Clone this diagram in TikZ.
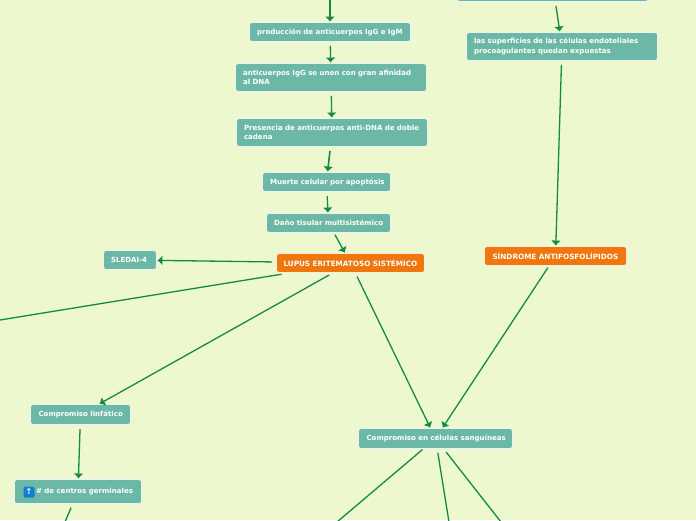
\documentclass[tikz,border=0pt]{standalone}
\usepackage{fontspec}
\setmainfont{DejaVu Sans}
\usepackage{xcolor}
\usetikzlibrary{arrows.meta,positioning}
\definecolor{paper}{HTML}{EEF8CE}
\definecolor{teal}{HTML}{6CB8A6}
\definecolor{lineg}{HTML}{138A48}
\definecolor{burnt}{HTML}{F0760E}
\definecolor{iconb}{HTML}{0F7FD8}

\begin{document}
\begin{tikzpicture}[
    x=1pt, y=-1pt,
    box/.style={draw=white!85!teal, line width=0.9pt, fill=teal, rounded corners=2.5pt,
                text=white, align=left, inner sep=0pt,
                font=\fontsize{7.05}{9.2}\selectfont\bfseries},
    hot/.style={box, fill=burnt, draw=white!85!burnt,
                font=\fontsize{7.25}{9.2}\selectfont\bfseries},
    arr/.style={-{Latex[length=5pt,width=10pt]}, draw=lineg, line width=1.3pt,
                shorten <=4pt, shorten >=0.5pt},
    stub/.style={draw=lineg, line width=1.3pt, shorten <=4pt}
]

\fill[paper] (0,0) rectangle (696,520);
\clip (0,0) rectangle (696,520);

\coordinate (offtop) at (330,-20);
\coordinate (offleft) at (0,320);
\coordinate (offgerm) at (65,522);
\coordinate (offa) at (337,522);
\coordinate (offb) at (449,522);
\coordinate (offc) at (501,522);

\node[box, minimum width=161pt, minimum height=19pt, text width=146pt] (igm) at (330,32)
    {\raisebox{-1pt}{producción de anticuerpos IgG e IgM}};
\node[box, minimum width=191pt, minimum height=28pt, text width=176pt] (dna) at (331,77.5)
    {anticuerpos IgG se unen con gran afinidad\\al DNA};
\node[box, minimum width=191pt, minimum height=28pt, text width=176pt] (doble) at (332,132.5)
    {Presencia de anticuerpos anti-DNA de doble\\cadena};
\node[box, minimum width=128pt, minimum height=19pt, text width=113pt] (muerte) at (326.5,182)
    {\raisebox{-1pt}{Muerte celular por apoptósis}};
\node[box, minimum width=124pt, minimum height=19pt, text width=109pt] (dano) at (328.5,223)
    {\raisebox{-1pt}{Daño tisular multisistémico}};
\node[hot, minimum width=148pt, minimum height=19pt, text width=134pt] (lupus) at (350.5,263)
    {\raisebox{-1pt}{LUPUS ERITEMATOSO SISTÉMICO}};
\node[box, minimum width=53pt, minimum height=19pt, text width=38pt] (sledai) at (130,260)
    {\raisebox{-1pt}{SLEDAI-4}};

\node[box, minimum width=191pt, minimum height=38pt] (endo) at (552.5,-17.5) {};
\node[box, minimum width=191pt, minimum height=28pt, text width=176pt] (sup) at (562,46.5)
    {las superficies de las células endoteliales\\procoagulantes quedan expuestas};
\node[hot, minimum width=142pt, minimum height=19pt, text width=126pt] (sind) at (555.5,256)
    {\raisebox{-1pt}{SÍNDROME ANTIFOSFOLÍPIDOS}};

\node[box, minimum width=100pt, minimum height=20pt, text width=84pt] (linf) at (80.5,414.5)
    {\raisebox{-1pt}{Compromiso linfático}};
\node[box, minimum width=127pt, minimum height=24pt, text width=110pt, align=right] (germ) at (78,491.5)
    {\raisebox{-1pt}{\# de centros germinales}};
\node[fill=iconb, rounded corners=1.5pt, text=white, minimum size=11pt, inner sep=0pt,
      font=\fontsize{8}{8}\selectfont\bfseries] (icon) at (29,492) {↑};
\node[box, minimum width=154pt, minimum height=20pt, text width=138pt] (sang) at (435.5,438.5)
    {\raisebox{-1pt}{Compromiso en células sanguíneas}};

\draw[arr] (offtop) -- (igm);
\draw[arr] (igm) -- (dna);
\draw[arr] (dna) -- (doble);
\draw[arr, line width=1.6pt] (doble) -- (muerte);
\draw[arr] (muerte) -- (dano);
\draw[arr, shorten <=2pt] (dano) -- (lupus);
\draw[arr] (lupus) -- (sledai);
\draw[stub, shorten <=8pt] (lupus) -- (offleft);
\draw[arr] (lupus) -- (linf);
\draw[arr] (lupus) -- (sang);

\draw[arr] (endo) -- (sup);
\draw[arr] (sup) -- (sind);
\draw[arr, shorten <=2pt] (sind) -- (sang);

\draw[arr] (linf) -- (germ);
\draw[stub] (germ) -- (offgerm);
\draw[stub, shorten <=1pt] (sang) -- (offa);
\draw[stub] (sang) -- (offb);
\draw[stub] (sang) -- (offc);

\end{tikzpicture}
\end{document}
